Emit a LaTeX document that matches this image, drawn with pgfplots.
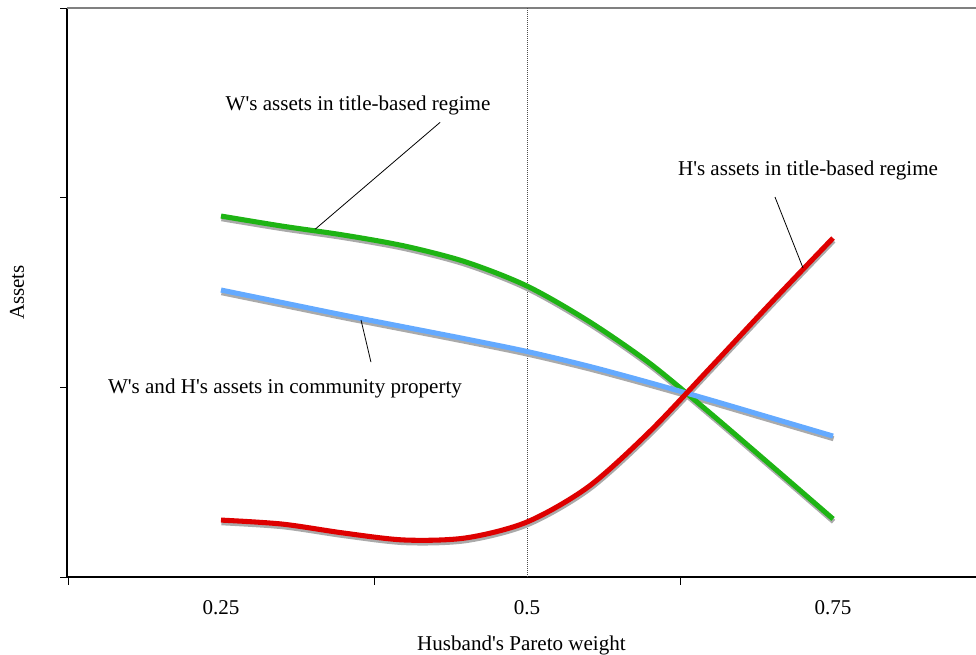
\documentclass[border=0pt]{standalone}
\usepackage{pgfplots}
\pgfplotsset{compat=1.18}
\usepackage{fontspec}
\setmainfont{Liberation Serif}
\definecolor{wgreen}{RGB}{30,180,20}
\definecolor{hred}{RGB}{222,0,0}
\definecolor{cpblue}{RGB}{100,170,255}
\definecolor{shadow}{RGB}{170,170,170}
\newcommand{\q}{\textquotesingle}

% values (axis units, y has no scale)
\pgfplotstableread{
x     w      h      cp
0.25  1.903  0.300  1.513
0.30  1.850  0.279  1.447
0.35  1.803  0.232  1.381
0.40  1.745  0.195  1.318
0.45  1.661  0.206  1.255
0.50  1.534  0.290  1.189
0.55  1.350  0.475  1.112
0.60  1.128  0.765  1.025
0.65  0.862  1.105  0.933
0.70  0.585  1.450  0.838
0.75  0.306  1.787  0.743
}\assets

\begin{document}
\begin{tikzpicture}
\fontsize{15.8}{19}\selectfont
\begin{axis}[
    name=ax,
    scale only axis,
    width=681.75pt, height=426.75pt,
    xmin=0.1242, xmax=0.8668,
    ymin=0, ymax=3,
    axis lines=left,
    axis line style={-, black, line width=0.8pt},
    xtick={0.25,0.5,0.75},
    xticklabels={0.25,0.5,0.75},
    major x tick style={draw=none},
    extra x ticks={0.125,0.375,0.625},
    extra x tick labels={},
    extra x tick style={major tick length=6pt, tick align=outside, major x tick style={draw=black, line width=0.6pt}},
    ytick={0,1,2,3},
    yticklabels={},
    major tick length=5pt,
    tick align=outside,
    y tick style={black, line width=0.6pt},
    /pgf/number format/assume math mode=true,
    xticklabel style={font=\fontsize{15.8}{19}\selectfont, yshift=-7pt},
    xlabel={Husband\q s Pareto weight},
    ylabel={Assets},
    label style={font=\fontsize{15.8}{19}\selectfont},
    xlabel style={at={(axis description cs:0.5,0)}, anchor=center, yshift=-51pt},
    ylabel style={at={(axis description cs:-0.055,0.5)}, anchor=center},
    clip=false,
]
\draw[gray, line width=1pt] (rel axis cs:0,1) -- (rel axis cs:1,1);
\addplot[densely dotted, black!70, line width=0.5pt] coordinates {(0.5,0) (0.5,3)};

% shadows
\addplot[shadow, line width=3.8pt, smooth, yshift=-2pt, xshift=0.4pt] table[x=x, y=w] {\assets};
\addplot[shadow, line width=3.8pt, smooth, yshift=-2pt, xshift=0.4pt] table[x=x, y=cp] {\assets};
\addplot[shadow, line width=3.8pt, smooth, yshift=-2pt, xshift=0.4pt] table[x=x, y=h] {\assets};

\addplot[wgreen, line width=3.8pt, smooth] table[x=x, y=w] {\assets};
\addplot[cpblue, line width=3.8pt, smooth] table[x=x, y=cp] {\assets};
\addplot[hred, line width=3.8pt, smooth] table[x=x, y=h] {\assets};

% annotations
\node at (axis cs:0.362,2.488) {W\q s assets in title-based regime};
\draw[black, line width=0.6pt] (axis cs:0.429,2.397) -- (axis cs:0.327,1.834);
\node at (axis cs:0.7296,2.145) {H\q s assets in title-based regime};
\draw[black, line width=0.6pt] (axis cs:0.7026,2.003) -- (axis cs:0.7255,1.629);
\node at (axis cs:0.3023,0.996) {W\q s and H\q s assets in community property};
\draw[black, line width=0.6pt] (axis cs:0.3725,1.133) -- (axis cs:0.3644,1.355);
\end{axis}
\pgfresetboundingbox
\path[use as bounding box] ([xshift=-50.25pt, yshift=-58.5pt]ax.south west) rectangle ([yshift=6pt]ax.north east);
\end{tikzpicture}
\end{document}
